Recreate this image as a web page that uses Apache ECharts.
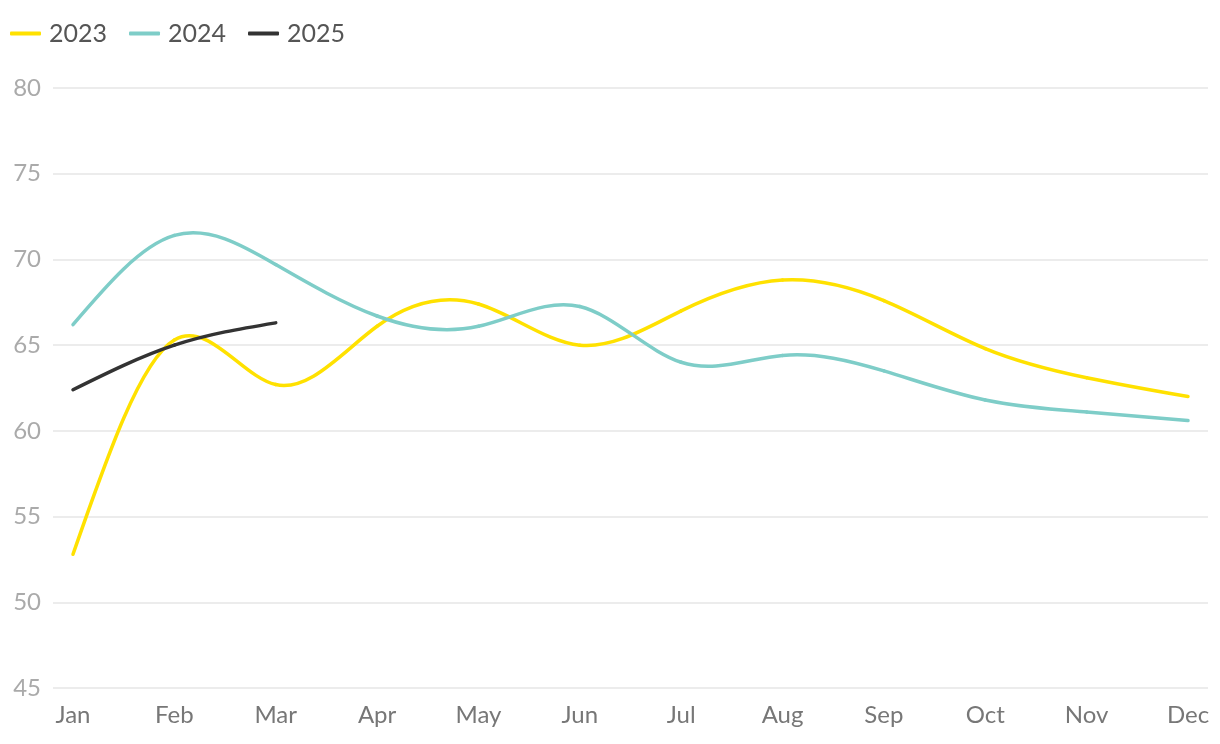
<!DOCTYPE html>
<html><head><meta charset="utf-8">
<script src="https://cdn.jsdelivr.net/npm/echarts@6/dist/echarts.min.js"></script>
<style>html,body{margin:0;padding:0;background:#fff}#c{width:1220px;height:744px}</style>
</head><body><div id="c"></div>
<script>
var months = ['Jan','Feb','Mar','Apr','May','Jun','Jul','Aug','Sep','Oct','Nov','Dec'];
var s2023 = [52.8, 65.3, 62.7, 66.1, 67.4, 65.0, 67.0, 68.8, 67.6, 64.8, 63.1, 62.0];
var s2024 = [66.2, 71.4, 69.7, 66.7, 66.1, 67.25, 64.0, 64.4, 63.5, 61.8, 61.1, 60.6];
var s2025 = [62.4, 65.0, 66.3];
var seriesNames = ['2023', '2024', '2025'];
var seriesColors = ['#FFE100', '#7ECDC8', '#333333'];
var yMin = 45, yMax = 80, yStep = 5;

// natural cubic spline control points (same scheme as d3.curveNatural)
function controlPoints(x) {
  var i, n = x.length - 1, m, a = new Array(n), b = new Array(n), r = new Array(n);
  a[0] = 0; b[0] = 2; r[0] = x[0] + 2 * x[1];
  for (i = 1; i < n - 1; ++i) { a[i] = 1; b[i] = 4; r[i] = 4 * x[i] + 2 * x[i + 1]; }
  a[n - 1] = 2; b[n - 1] = 7; r[n - 1] = 8 * x[n - 1] + x[n];
  for (i = 1; i < n; ++i) { m = a[i] / b[i - 1]; b[i] -= m; r[i] -= m * r[i - 1]; }
  a[n - 1] = r[n - 1] / b[n - 1];
  for (i = n - 2; i >= 0; --i) a[i] = (r[i] - a[i + 1]) / b[i];
  b[n - 1] = (x[n] + a[n - 1]) / 2;
  for (i = 0; i < n - 1; ++i) b[i] = 2 * x[i + 1] - a[i + 1];
  return [a, b];
}

function makeCurveSeries(name, values, color) {
  return {
    name: name, type: 'custom', xAxisIndex: 1, yAxisIndex: 1,
    itemStyle: {color: color},
    data: values.map(function (v, i) { return [i, v]; }),
    renderItem: function (params, api) {
      if (params.dataIndex !== 0) return null;
      var pts = values.map(function (v, i) { return api.coord([i, v]); });
      var xs = pts.map(function (p) { return p[0]; });
      var ys = pts.map(function (p) { return p[1]; });
      var cx = controlPoints(xs), cy = controlPoints(ys);
      var children = [];
      for (var i = 0; i < pts.length - 1; i++) {
        children.push({
          type: 'bezierCurve',
          shape: {x1: xs[i], y1: ys[i], x2: xs[i + 1], y2: ys[i + 1],
                  cpx1: cx[0][i], cpy1: cy[0][i], cpx2: cx[1][i], cpy2: cy[1][i]},
          style: {fill: null, stroke: color, lineWidth: 3.5, lineCap: 'round'}
        });
      }
      return {type: 'group', children: children};
    }
  };
}

var chart = echarts.init(document.getElementById('c'));
var font = 'Lato';
chart.setOption({
  animation: false,
  textStyle: {fontFamily: font},
  legend: {
    left: 5, top: 16, itemWidth: 31, itemHeight: 4, itemGap: 22, icon: 'roundRect',
    textStyle: {fontFamily: font, fontSize: 25, color: '#555', padding: [0, 0, 0, 3]},
    data: seriesNames
  },
  grid: [
    {left: 53, right: 12, top: 88, bottom: 56},
    {left: 73, right: 32, top: 88, bottom: 56}
  ],
  xAxis: [
    {gridIndex: 0, type: 'category', data: months, show: false},
    {gridIndex: 1, type: 'category', data: months, boundaryGap: false,
     axisLine: {show: false}, axisTick: {show: false},
     axisLabel: {fontFamily: font, fontSize: 24, color: '#777', margin: 15}}
  ],
  yAxis: [
    {gridIndex: 0, type: 'value', min: yMin, max: yMax, interval: yStep,
     axisLine: {show: false}, axisTick: {show: false},
     axisLabel: {fontFamily: font, fontSize: 24, color: '#aaa', margin: 12},
     splitLine: {lineStyle: {color: '#e6e6e6', width: 1.5}}},
    {gridIndex: 1, type: 'value', min: yMin, max: yMax, interval: yStep, show: false,
     splitLine: {show: false}}
  ],
  series: [
    makeCurveSeries(seriesNames[0], s2023, seriesColors[0]),
    makeCurveSeries(seriesNames[1], s2024, seriesColors[1]),
    makeCurveSeries(seriesNames[2], s2025, seriesColors[2])
  ]
});
</script></body></html>
